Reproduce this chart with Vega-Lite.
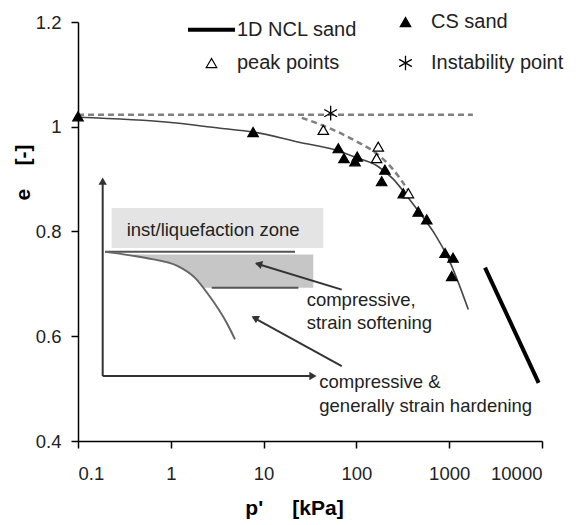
{
  "$schema": "https://vega.github.io/schema/vega-lite/v6.json",
  "width": 464,
  "height": 419,
  "autosize": {"type": "none"},
  "padding": {"left": 78, "top": 22, "right": 34, "bottom": 84},
  "background": "white",
  "config": {
    "view": {"stroke": null},
    "font": "Liberation Sans",
    "axis": {
      "grid": false,
      "domainColor": "black",
      "domainWidth": 1.5,
      "tickColor": "black",
      "tickWidth": 1.5,
      "tickSize": 7,
      "labelFont": "Liberation Sans",
      "labelFontSize": 18.5,
      "labelColor": "#222",
      "titleFont": "Liberation Sans",
      "titleFontSize": 21,
      "titleFontWeight": "bold",
      "titleColor": "black"
    },
    "legend": {
      "labelFont": "Liberation Sans",
      "labelFontSize": 20,
      "labelColor": "#222",
      "labelLimit": 400
    }
  },
  "datasets": {
    "points": [
      {"p": 0.1, "e": 1.02, "series": "CS sand"},
      {"p": 7.7, "e": 0.99, "series": "CS sand"},
      {"p": 63.8, "e": 0.959, "series": "CS sand"},
      {"p": 73.5, "e": 0.94, "series": "CS sand"},
      {"p": 96.6, "e": 0.934, "series": "CS sand"},
      {"p": 102, "e": 0.943, "series": "CS sand"},
      {"p": 203, "e": 0.918, "series": "CS sand"},
      {"p": 187, "e": 0.896, "series": "CS sand"},
      {"p": 320, "e": 0.873, "series": "CS sand"},
      {"p": 464, "e": 0.838, "series": "CS sand"},
      {"p": 573, "e": 0.823, "series": "CS sand"},
      {"p": 902, "e": 0.759, "series": "CS sand"},
      {"p": 1100, "e": 0.75, "series": "CS sand"},
      {"p": 1064, "e": 0.715, "series": "CS sand"},
      {"p": 44, "e": 0.994, "series": "peak points"},
      {"p": 172, "e": 0.962, "series": "peak points"},
      {"p": 165, "e": 0.94, "series": "peak points"},
      {"p": 363, "e": 0.873, "series": "peak points"},
      {"p": 52.8, "e": 1.026, "series": "Instability point"}
    ],
    "csline": [
      {"p": 0.1, "e": 1.018},
      {"p": 1, "e": 1.008},
      {"p": 3.4, "e": 0.997},
      {"p": 7.7, "e": 0.99},
      {"p": 24.7, "e": 0.97},
      {"p": 56, "e": 0.957},
      {"p": 100, "e": 0.941},
      {"p": 165, "e": 0.926},
      {"p": 250, "e": 0.9},
      {"p": 350, "e": 0.868},
      {"p": 484, "e": 0.835},
      {"p": 700, "e": 0.795},
      {"p": 1000, "e": 0.745},
      {"p": 1607, "e": 0.651}
    ],
    "ncl": [
      {"p": 2432, "e": 0.731},
      {"p": 9200, "e": 0.511}
    ],
    "dashflat": [
      {"p": 0.1, "e": 1.023},
      {"p": 1800, "e": 1.023}
    ],
    "dashcurve": [
      {"p": 25.8, "e": 1.017},
      {"p": 37.4, "e": 1.007},
      {"p": 56.4, "e": 0.994},
      {"p": 100, "e": 0.972},
      {"p": 170, "e": 0.947},
      {"p": 250, "e": 0.918},
      {"p": 310, "e": 0.896},
      {"p": 400, "e": 0.866}
    ],
    "zoneUpper": [
      {"p": 0.2306, "p2": 44, "e": 0.8449, "e2": 0.7687}
    ],
    "zoneLower": [
      {"p": 0.305, "e": 0.7559},
      {"p": 0.527, "e": 0.7497},
      {"p": 1.205, "e": 0.7336},
      {"p": 1.824, "e": 0.7115},
      {"p": 2.22, "e": 0.6924}
    ],
    "insetCurve": [
      {"p": 0.1953, "e": 0.7611},
      {"p": 0.527, "e": 0.7497},
      {"p": 1.205, "e": 0.7336},
      {"p": 1.824, "e": 0.7115},
      {"p": 2.54, "e": 0.6797},
      {"p": 4.0, "e": 0.6257},
      {"p": 4.92, "e": 0.594}
    ],
    "zoneLines": [
      {"p": 0.1953, "p2": 21.8, "e": 0.7611, "e2": 0.7611},
      {"p": 2.76, "p2": 23.7, "e": 0.6924, "e2": 0.6924}
    ],
    "insetAxes": [
      {"p": 0.1845, "p2": 0.1845, "e": 0.524, "e2": 0.898},
      {"p": 0.1845, "p2": 34.5, "e": 0.524, "e2": 0.524},
      {"p": 69.5, "p2": 8.3, "e": 0.689, "e2": 0.739},
      {"p": 69.5, "p2": 7.7, "e": 0.543, "e2": 0.636}
    ],
    "headUp": [{"p": 0.1845, "e": 0.896}],
    "headRight": [{"p": 34.0, "e": 0.524}],
    "headA1": [{"p": 8.81, "e": 0.738}],
    "headA2": [{"p": 8.04, "e": 0.635}],
    "labels": [
      {"p": 0.335, "e": 0.8036, "label": "inst/liquefaction zone"},
      {"p": 29.1, "e": 0.67, "label": "compressive,"},
      {"p": 29.1, "e": 0.6257, "label": "strain softening"},
      {"p": 39.8, "e": 0.513, "label": "compressive &"},
      {"p": 39.8, "e": 0.467, "label": "generally strain hardening"}
    ]
  },
  "encoding": {
    "x": {
      "field": "p",
      "type": "quantitative",
      "scale": {"type": "log", "domain": [0.1, 10000]},
      "axis": {
        "values": [0.1, 1, 10, 100, 1000, 10000],
        "format": "~g",
        "title": "p'\u00a0\u00a0\u00a0\u00a0\u00a0[kPa]",
        "labelPadding": 16,
        "titlePadding": 15,
        "titleX": 216
      }
    },
    "y": {
      "field": "e",
      "type": "quantitative",
      "scale": {"domain": [0.4, 1.2], "zero": false},
      "axis": {
        "values": [0.4, 0.6, 0.8, 1, 1.2],
        "format": "~g",
        "title": "e\u00a0\u00a0\u00a0\u00a0[-]",
        "labelPadding": 10,
        "titlePadding": 2,
        "titleY": 150
      }
    }
  },
  "layer": [
    {
      "data": {"name": "zoneUpper"},
      "mark": {"type": "rect", "fill": "#e4e4e4"},
      "encoding": {"x2": {"field": "p2"}, "y2": {"field": "e2"}}
    },
    {
      "data": {"name": "zoneLower"},
      "mark": {"type": "area", "orient": "horizontal", "fill": "#c6c6c6"},
      "encoding": {"x2": {"datum": 34.3}}
    },
    {
      "data": {"name": "zoneLines"},
      "mark": {"type": "rule", "stroke": "#555", "strokeWidth": 2},
      "encoding": {"x2": {"field": "p2"}, "y2": {"field": "e2"}}
    },
    {
      "data": {"name": "insetCurve"},
      "mark": {"type": "line", "stroke": "#666", "strokeWidth": 2, "interpolate": "monotone"},
      "encoding": {}
    },
    {
      "data": {"name": "insetAxes"},
      "mark": {"type": "rule", "stroke": "#333", "strokeWidth": 2},
      "encoding": {"x2": {"field": "p2"}, "y2": {"field": "e2"}}
    },
    {
      "data": {"name": "headUp"},
      "mark": {"type": "point", "shape": "triangle-up", "filled": true, "fill": "#333", "size": 70, "opacity": 1},
      "encoding": {}
    },
    {
      "data": {"name": "headRight"},
      "mark": {"type": "point", "shape": "triangle-right", "filled": true, "fill": "#333", "size": 70, "opacity": 1},
      "encoding": {}
    },
    {
      "data": {"name": "headA1"},
      "mark": {"type": "point", "shape": "triangle-up", "filled": true, "fill": "#333", "size": 70, "opacity": 1, "angle": 286},
      "encoding": {}
    },
    {
      "data": {"name": "headA2"},
      "mark": {"type": "point", "shape": "triangle-up", "filled": true, "fill": "#333", "size": 70, "opacity": 1, "angle": 299},
      "encoding": {}
    },
    {
      "data": {"name": "labels"},
      "mark": {"type": "text", "align": "left", "baseline": "middle", "fontSize": 18.5, "font": "Liberation Sans", "fill": "#222"},
      "encoding": {"text": {"field": "label"}}
    },
    {
      "data": {"name": "dashflat"},
      "mark": {"type": "line", "stroke": "#808080", "strokeWidth": 2.5, "strokeDash": [6, 4]},
      "encoding": {}
    },
    {
      "data": {"name": "dashcurve"},
      "mark": {"type": "line", "stroke": "#808080", "strokeWidth": 2.5, "strokeDash": [6, 4], "interpolate": "monotone"},
      "encoding": {}
    },
    {
      "data": {"name": "csline"},
      "mark": {"type": "line", "stroke": "#444", "strokeWidth": 1.6, "interpolate": "monotone"},
      "encoding": {}
    },
    {
      "data": {"name": "ncl"},
      "mark": {"type": "line", "stroke": "black", "strokeWidth": 4},
      "encoding": {}
    },
    {
      "data": {"name": "points"},
      "mark": {"type": "point", "opacity": 1},
      "encoding": {
        "shape": {
          "field": "series",
          "type": "nominal",
          "scale": {
            "domain": ["1D NCL sand", "CS sand", "peak points", "Instability point"],
            "range": ["stroke", "triangle-up", "triangle-up", "M0,-1.4L0,1.4M-1.21,-0.7L1.21,0.7M-1.21,0.7L1.21,-0.7"]
          },
          "legend": {"title": null, "orient": "none", "legendX": 108, "legendY": -18, "columns": 2, "direction": "horizontal", "columnPadding": 22, "rowPadding": 13, "padding": 0, "labelOffset": 0}
        },
        "fill": {
          "field": "series",
          "type": "nominal",
          "scale": {
            "domain": ["1D NCL sand", "CS sand", "peak points", "Instability point"],
            "range": ["black", "black", "white", "transparent"]
          },
          "legend": {"title": null, "orient": "none", "legendX": 108, "legendY": -18, "columns": 2, "direction": "horizontal", "columnPadding": 22, "rowPadding": 13, "padding": 0, "labelOffset": 0}
        },
        "stroke": {
          "field": "series",
          "type": "nominal",
          "scale": {
            "domain": ["1D NCL sand", "CS sand", "peak points", "Instability point"],
            "range": ["black", "black", "black", "black"]
          },
          "legend": {"title": null, "orient": "none", "legendX": 108, "legendY": -18, "columns": 2, "direction": "horizontal", "columnPadding": 22, "rowPadding": 13, "padding": 0, "labelOffset": 0}
        },
        "size": {
          "field": "series",
          "type": "nominal",
          "scale": {
            "type": "ordinal",
            "domain": ["1D NCL sand", "CS sand", "peak points", "Instability point"],
            "range": [2209, 110, 110, 110]
          },
          "legend": {"title": null, "orient": "none", "legendX": 108, "legendY": -18, "columns": 2, "direction": "horizontal", "columnPadding": 22, "rowPadding": 13, "padding": 0, "labelOffset": 0}
        },
        "strokeWidth": {
          "field": "series",
          "type": "nominal",
          "scale": {
            "type": "ordinal",
            "domain": ["1D NCL sand", "CS sand", "peak points", "Instability point"],
            "range": [4, 1.2, 1.2, 1.3]
          },
          "legend": {"title": null, "orient": "none", "legendX": 108, "legendY": -18, "columns": 2, "direction": "horizontal", "columnPadding": 22, "rowPadding": 13, "padding": 0, "labelOffset": 0}
        }
      }
    }
  ]
}
